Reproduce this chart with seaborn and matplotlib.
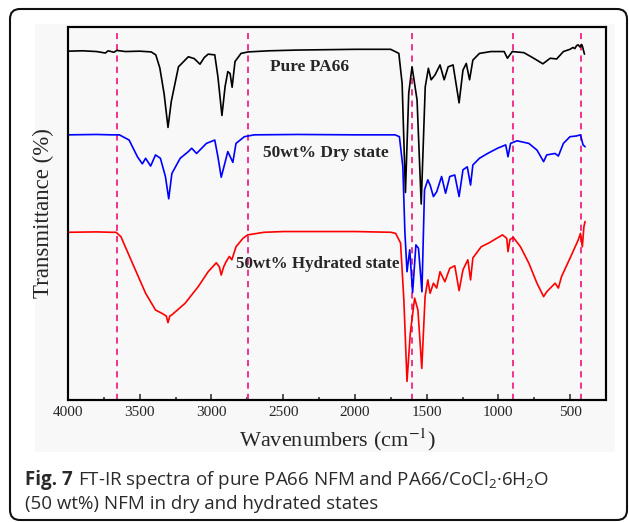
import numpy as np
import pandas as pd
import seaborn as sns
import matplotlib
matplotlib.use("Agg")
import matplotlib.pyplot as plt
from matplotlib.patches import FancyBboxPatch, Rectangle

# ---------------- data ----------------
pa66_wn = [4000, 3900, 3800, 3740, 3720, 3680, 3660, 3600, 3500, 3420, 3388, 3360, 3330, 3303,
           3280, 3230, 3161, 3120, 3080, 3050, 3023, 2977, 2955, 2927, 2905, 2886, 2870, 2856,
           2836, 2794, 2744, 2600, 2400, 2200, 2000, 1800, 1751, 1694, 1671, 1648, 1625, 1602,
           1567, 1538, 1510, 1488, 1469, 1442, 1407, 1378, 1350, 1316, 1274, 1247, 1224, 1201,
           1178, 1155, 1132, 1052, 960, 937, 903, 822, 754, 690, 639, 594, 547, 501, 480, 467,
           455, 444, 430, 420, 415, 400]
pa66_t = [93.5, 93.6, 93.4, 93.0, 93.6, 93.2, 93.7, 93.4, 93.5, 93.3, 92.5, 89.0, 82.0, 73.0,
          80.0, 89.3, 92.0, 91.5, 90.0, 91.8, 92.7, 92.5, 86.6, 76.2, 84.0, 88.0, 87.5, 83.8,
          90.7, 92.9, 93.3, 93.6, 93.8, 93.9, 94.0, 94.0, 94.0, 92.9, 84.8, 55.5, 82.2, 89.3,
          80.4, 52.4, 83.9, 88.9, 85.8, 87.1, 89.8, 85.8, 89.3, 89.8, 79.6, 88.4, 90.2, 85.8,
          91.1, 92.0, 92.9, 93.4, 93.4, 91.6, 93.4, 93.1, 91.6, 90.1, 91.6, 91.4, 93.4, 94.0,
          94.5, 94.2, 95.0, 95.2, 94.6, 95.3, 94.9, 92.7]

dry_wn = [4000, 3800, 3700, 3642, 3574, 3516, 3482, 3459, 3424, 3390, 3356, 3321, 3298, 3276,
          3218, 3161, 3138, 3104, 3035, 2977, 2955, 2932, 2886, 2851, 2829, 2771, 2702, 2400,
          2000, 1720, 1690, 1666, 1652, 1637, 1618, 1598, 1575, 1557, 1533, 1515, 1492, 1476,
          1453, 1430, 1396, 1368, 1339, 1304, 1274, 1247, 1217, 1194, 1178, 1132, 1075, 1006,
          949, 933, 915, 870, 788, 731, 685, 663, 605, 582, 547, 501, 456, 428, 410, 396]
dry_t = [71.0, 71.1, 71.0, 71.0, 69.6, 65.1, 63.2, 64.7, 62.6, 65.6, 64.7, 59.8, 53.8, 60.6,
         64.7, 66.5, 67.4, 66.0, 68.7, 69.6, 65.1, 59.6, 66.5, 63.6, 68.7, 70.5, 71.0, 71.1,
         71.0, 71.0, 70.5, 62.4, 45.0, 34.2, 40.1, 28.6, 41.4, 40.5, 28.8, 56.2, 58.9, 57.5,
         54.4, 55.7, 59.8, 55.3, 59.8, 60.2, 54.4, 61.6, 62.4, 57.5, 62.9, 64.7, 66.0, 67.4,
         68.3, 65.1, 68.7, 69.4, 68.7, 66.9, 63.8, 65.6, 66.0, 65.3, 68.7, 70.5, 70.7, 71.0,
         68.3, 67.8]

hyd_wn = [4000, 3800, 3700, 3665, 3631, 3551, 3459, 3390, 3345, 3315, 3303, 3290, 3276, 3184,
          3092, 3023, 2966, 2945, 2932, 2915, 2898, 2875, 2858, 2829, 2780, 2748, 2633, 2496,
          2000, 1750, 1716, 1682, 1659, 1637, 1614, 1584, 1561, 1534, 1511, 1492, 1476, 1453,
          1430, 1407, 1373, 1339, 1304, 1274, 1247, 1213, 1194, 1178, 1120, 1063, 972, 942,
          933, 919, 896, 846, 788, 731, 685, 663, 605, 582, 560, 501, 444, 428, 415, 404, 396]
hyd_t = [44.8, 44.9, 44.8, 44.8, 43.6, 36.5, 28.4, 23.9, 23.0, 22.3, 20.5, 22.3, 22.6, 25.7,
         30.2, 34.2, 36.6, 35.5, 33.3, 35.5, 36.9, 38.3, 37.4, 40.9, 43.2, 44.1, 44.8, 45.0,
         45.0, 44.8, 44.5, 41.9, 26.6, 4.7, 17.7, 27.1, 23.9, 8.2, 27.5, 32.0, 28.4, 31.1,
         29.8, 34.2, 31.5, 35.1, 35.8, 29.1, 34.7, 37.4, 32.0, 37.9, 40.9, 42.0, 44.1, 43.2,
         39.6, 42.9, 43.4, 40.9, 36.5, 31.1, 27.5, 28.8, 31.1, 29.8, 32.9, 37.8, 42.7, 44.5,
         40.9, 46.3, 47.7]

series_names = ["Pure PA66", "50wt% Dry state", "50wt% Hydrated state"]
series_colors = ["#000000", "#0000FF", "#FF0000"]
marker_lines = [3660, 2745, 1600, 898, 425]
xticks = [4000, 3500, 3000, 2500, 2000, 1500, 1000, 500]

# ---------------- figure ----------------
sns.set_style("ticks")
plt.rcParams["font.family"] = ["Liberation Serif", "DejaVu Serif"]
plt.rcParams["mathtext.fontset"] = "custom"
plt.rcParams["mathtext.rm"] = "Open Sans"
plt.rcParams["mathtext.it"] = "Open Sans:italic"

W, H = 629, 522
L, T, R, B = 68, 27, 606, 400          # plot box in pixels (origin top-left)
AX_POS = [L / W, 1 - B / H, (R - L) / W, (B - T) / H]
fig = plt.figure(figsize=(W / 100, H / 100), dpi=100)

# background layer in pixel units: pale panel and rounded outer frame
bg = fig.add_axes([0, 0, 1, 1], zorder=-5)
bg.set_xlim(0, W)
bg.set_ylim(H, 0)
bg.axis("off")
bg.add_patch(Rectangle((35, 24), 580, 428, facecolor="#f8f8f8", edgecolor="none"))
bg.add_patch(FancyBboxPatch((10, 9), 617, 511, boxstyle="round,pad=0,rounding_size=10",
                            facecolor="none", edgecolor="#111111", linewidth=1.5))

ax = fig.add_axes(AX_POS, zorder=1)
ax.patch.set_alpha(0)

for wn, t, name, col in zip([pa66_wn, dry_wn, hyd_wn], [pa66_t, dry_t, hyd_t],
                            series_names, series_colors):
    df = pd.DataFrame({"wn": wn, "t": t})
    sns.lineplot(data=df, x="wn", y="t", sort=False, color=col, linewidth=1.2,
                 ax=ax, zorder=3, estimator=None)

for xv in marker_lines:
    ax.axvline(xv, ymin=0, ymax=0.985, color="#F0338C", linewidth=1.4,
               linestyle=(0, (3.2, 2.6)), zorder=2)

ax.set_xlim(4000, 300)
ax.set_ylim(-0.3, 100)
ax.set_xticks(xticks)
ax.set_xticks([x - 250 for x in xticks], minor=True)
ax.set_yticks([])
ax.tick_params(axis="x", which="major", direction="in", length=4, width=1.1,
               labelsize=11, pad=4, top=False)
ax.tick_params(axis="x", which="minor", direction="in", length=2.5, width=1.1, top=False)
for s in ax.spines.values():
    s.set_visible(True)
    s.set_linewidth(1.5)
    s.set_color("black")

ax.set_xlabel("Wavenumbers (cm$^{-1}$)", fontsize=16, labelpad=6,
              math_fontfamily="stix")
ax.set_ylabel("Transmittance (%)", fontsize=16.5, labelpad=10)

ax.text(2590, 88.25, series_names[0], fontsize=12.5, fontweight="bold", va="baseline", ha="left")
ax.text(2638, 65.1, series_names[1], fontsize=12.5, fontweight="bold", va="baseline", ha="left")
ax.text(2829, 35.3, series_names[2], fontsize=12.2, fontweight="bold", va="baseline", ha="left")

# overlay layer in pixel units: closed frame of the plot box drawn on top
ov = fig.add_axes([0, 0, 1, 1], zorder=10)
ov.set_xlim(0, W)
ov.set_ylim(H, 0)
ov.axis("off")
ov.patch.set_alpha(0)
ov.add_patch(Rectangle((L, T), R - L, B - T, fill=False, edgecolor="black",
                       linewidth=1.5))

# caption
cap_col = "#2a2a2a"
t1 = fig.text(25 / W, 1 - 485 / H, "Fig. 7", fontsize=13.5, fontweight="bold",
              family="Open Sans", color=cap_col, va="baseline", ha="left")
fig.canvas.draw()
bb = t1.get_window_extent()
fig.text((bb.x1 + 5) / W, 1 - 485 / H,
         "FT-IR spectra of pure PA66 NFM and PA66/CoCl$_2$\u00b76H$_2$O",
         fontsize=13.5, family="Open Sans", color=cap_col, va="baseline", ha="left",
         math_fontfamily="custom")
fig.text(25 / W, 1 - 509 / H, "(50 wt%) NFM in dry and hydrated states",
         fontsize=13.5, family="Open Sans", color=cap_col, va="baseline", ha="left")

fig.savefig("out.png", dpi=100)
